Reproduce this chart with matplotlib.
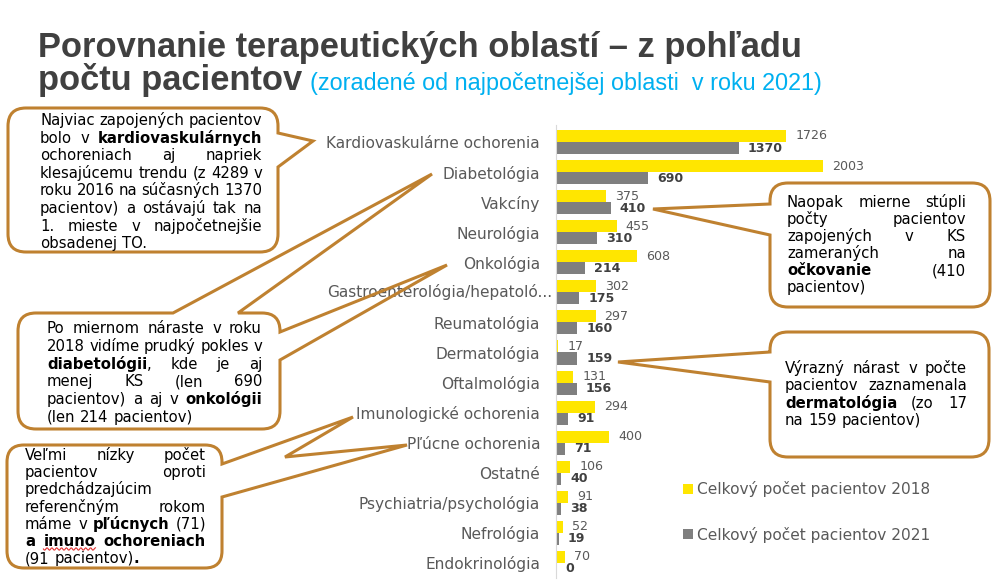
import matplotlib
matplotlib.use("Agg")
import matplotlib.pyplot as plt
import numpy as np
from matplotlib.path import Path
from matplotlib.patches import PathPatch

# --- data -------------------------------------------------------------
categories = ["Kardiovaskulárne ochorenia", "Diabetológia", "Vakcíny", "Neurológia",
              "Onkológia", "Gastroenterológia/hepatoló...", "Reumatológia", "Dermatológia",
              "Oftalmológia", "Imunologické ochorenia", "Pľúcne ochorenia", "Ostatné",
              "Psychiatria/psychológia", "Nefrológia", "Endokrinológia"]
pacienti_2018 = [1726, 2003, 375, 455, 608, 302, 297, 17, 131, 294, 400, 106, 91, 52, 70]
pacienti_2021 = [1370, 690, 410, 310, 214, 175, 160, 159, 156, 91, 71, 40, 38, 19, 0]
legend_labels = ["Celkový počet pacientov 2018", "Celkový počet pacientov 2021"]

YELLOW = "#FFE600"
GRAY = "#7F7F7F"
BROWN = "#BF8130"
TXT = "#595959"
W, H = 994, 583

fig = plt.figure(figsize=(W / 100, H / 100), dpi=100)
renderer = fig.canvas.get_renderer()


def text_width(s, size, bold=False, family="DejaVu Sans"):
    t = fig.text(0, 0, s, fontsize=size, family=family,
                 fontweight="bold" if bold else "normal")
    w = t.get_window_extent(renderer).width
    t.remove()
    return w


def fit_size(s, target, bold=False, family="DejaVu Sans"):
    return 10 * target / text_width(s, 10, bold, family)


label_size = fit_size(categories[0], 213)
val_size = fit_size("1726", 32)
val_bold_size = fit_size("1370", 35, True)

# --- bar chart ----------------------------------------------------------
ax = fig.add_axes([556 / W, 5 / H, 438 / W, 453 / H], zorder=1)
ax.patch.set_alpha(0)
y = np.arange(len(categories))
bars18 = ax.barh(y - 0.2, pacienti_2018, height=0.4, color=YELLOW, label=legend_labels[0])
bars21 = ax.barh(y + 0.2, pacienti_2021, height=0.4, color=GRAY, label=legend_labels[1])
ax.set_xlim(0, 438 / 0.1333)
ax.set_ylim(14.5, -0.565)
ax.set_xticks([])
ticklabels = list(categories)
ticklabels[5] = ""
ax.set_yticks(y, ticklabels)
ax.tick_params(axis="y", length=0, pad=11.5, labelsize=label_size, labelcolor=TXT)
# the truncated label sits a bit further right in the original
ax.annotate(categories[5], xy=(0, 5), xycoords=("axes fraction", "data"),
            xytext=(-3, 0), textcoords="offset points", ha="right", va="center",
            fontsize=label_size, color=TXT)
for s in ["top", "right", "bottom"]:
    ax.spines[s].set_visible(False)
ax.spines["left"].set_color("#D9D9D9")

for bar, v in zip(bars18, pacienti_2018):
    ax.annotate(str(v), (bar.get_width(), bar.get_y() + bar.get_height() / 2),
                xytext=(6.5, 0), textcoords="offset points", va="center",
                fontsize=val_size, color=TXT)
for bar, v in zip(bars21, pacienti_2021):
    ax.annotate(str(v), (bar.get_width(), bar.get_y() + bar.get_height() / 2),
                xytext=(6.5, 0), textcoords="offset points", va="center",
                fontsize=val_bold_size, color="#404040", fontweight="bold")

ax.legend(handles=[bars18, bars21], loc="center left",
          bbox_to_anchor=(683 / W, 1 - 512 / H), bbox_transform=fig.transFigure,
          frameon=False, fontsize=label_size, labelcolor=TXT,
          handlelength=0.62, handleheight=0.62, handletextpad=0.27,
          labelspacing=1.9, borderpad=0, borderaxespad=0)

# --- overlay in pixel coordinates (y down) ---------------------------------
ov = fig.add_axes([0, 0, 1, 1], zorder=2)
ov.set_xlim(0, W)
ov.set_ylim(H, 0)
ov.axis("off")

# title
tsize = fit_size("Porovnanie terapeutických oblastí – z pohľadu", 764, True, "Liberation Sans")
ov.text(38, 57, "Porovnanie terapeutických oblastí – z pohľadu", fontsize=tsize,
        family="Liberation Sans", fontweight="bold", color="#404040", va="baseline")
ov.text(38, 90, "počtu pacientov", fontsize=tsize,
        family="Liberation Sans", fontweight="bold", color="#404040", va="baseline")
sub = "(zoradené od najpočetnejšej oblasti  v roku 2021)"
ov.text(310, 90, sub, fontsize=fit_size(sub, 512, False, "Liberation Sans"),
        family="Liberation Sans", color="#00B0F0", va="baseline")


def bubble(x0, y0, x1, y1, r, top=(), right=(), bottom=(), left=()):
    verts = [(x0 + r, y0)]
    codes = [Path.MOVETO]

    def line(pts):
        for p in pts:
            verts.append(p)
            codes.append(Path.LINETO)

    def corner(c, end):
        verts.extend([c, end])
        codes.extend([Path.CURVE3, Path.CURVE3])

    line(top); line([(x1 - r, y0)]); corner((x1, y0), (x1, y0 + r))
    line(right); line([(x1, y1 - r)]); corner((x1, y1), (x1 - r, y1))
    line(bottom); line([(x0 + r, y1)]); corner((x0, y1), (x0, y1 - r))
    line(left); line([(x0, y0 + r)]); corner((x0, y0), (x0 + r, y0))
    verts.append((x0 + r, y0))
    codes.append(Path.CLOSEPOLY)
    ov.add_patch(PathPatch(Path(verts, codes), facecolor="none", edgecolor=BROWN, lw=2.2))


def parse(line):
    words, bold = [], False
    for raw in line.split(" "):
        squig = raw.startswith("~")
        raw = raw.lstrip("~")
        segs, cur = [], ""
        for ch in raw:
            if ch == "*":
                if cur:
                    segs.append((cur, bold))
                cur = ""
                bold = not bold
            else:
                cur += ch
        if cur:
            segs.append((cur, bold))
        words.append((segs, squig))
    return words


def para(lines, x0, x1, ybase, dy, size):
    space = text_width("a a", size) - text_width("aa", size)
    for i, line in enumerate(lines):
        words = parse(line)
        widths = [[text_width(s, size, b) for s, b in segs] for segs, _ in words]
        total = sum(sum(w) for w in widths)
        last = i == len(lines) - 1
        gap = space
        if not last and len(words) > 1:
            gap = (x1 - x0 - total) / (len(words) - 1)
        x = x0
        yb = ybase + i * dy
        for (segs, squig), ws in zip(words, widths):
            xs = x
            for (s, b), w in zip(segs, ws):
                ov.text(x, yb, s, fontsize=size, fontweight="bold" if b else "normal",
                        color="black", va="baseline", ha="left")
                x += w
            if squig:
                xx = np.linspace(xs, x, 60)
                ov.plot(xx, yb + 3 + 1.2 * np.sin((xx - xs) * 1.3), color="#E03030", lw=0.8)
            x += gap


csize = fit_size("Najviac zapojených pacientov", 222)

bubble(8, 108, 278, 252, 18, right=[(278, 133), (313, 141), (278, 167)])
para(["Najviac zapojených pacientov", "bolo v *kardiovaskulárnych*",
      "ochoreniach aj napriek", "klesajúcemu trendu (z 4289 v",
      "roku 2016 na súčasných 1370", "pacientov) a ostávajú tak na",
      "1. mieste v najpočetnejšie", "obsadenej TO."],
     40, 262, 125, 17.6, csize)

bubble(18, 313, 280, 429, 18, top=[(173, 313), (432, 174), (238, 313)],
       right=[(280, 332), (447, 265), (280, 360)])
para(["Po miernom náraste v roku", "2018 vidíme prudký pokles v",
      "*diabetológii*, kde je aj", "menej KS (len 690",
      "pacientov) a aj v *onkológii*", "(len 214 pacientov)"],
     47, 262, 333, 17.8, csize)

bubble(7, 445, 222, 568, 17,
       right=[(222, 464), (353, 417), (285, 457), (407, 445), (222, 497)])
para(["Veľmi nízky počet", "pacientov oproti", "predchádzajúcim",
      "referenčným rokom", "máme v *pľúcnych* (71)", "*a ~imuno ochoreniach*",
      "(91 pacientov)*.*"],
     25, 206, 460, 17.2, csize)

bubble(770, 183, 990, 307, 18, left=[(770, 235), (653, 209), (770, 204)])
para(["Naopak mierne stúpli", "počty pacientov", "zapojených v KS",
      "zameraných na", "*očkovanie* (410", "pacientov)"],
     787, 966, 207, 17.0, csize)

bubble(770, 332, 989, 457, 18, left=[(770, 382), (618, 362), (770, 352)])
para(["Výrazný nárast v počte", "pacientov zaznamenala",
      "*dermatológia* (zo 17", "na 159 pacientov)"],
     785, 967, 373, 17.3, csize)

fig.savefig("out.png", dpi=100)
